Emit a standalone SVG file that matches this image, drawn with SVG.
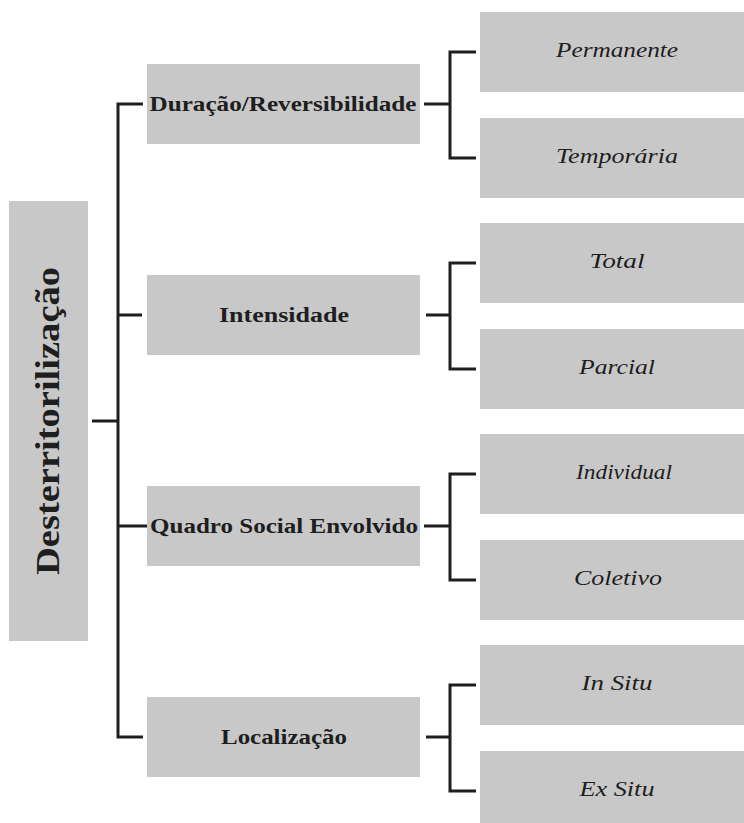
<svg xmlns="http://www.w3.org/2000/svg" width="744" height="823" viewBox="0 0 744 823">
<style>
.box{fill:#c8c8c8}
.l1{font-family:"Liberation Serif",serif;font-weight:bold;font-size:20px;fill:#1e1e1e;text-anchor:middle}
.leaf{font-family:"Liberation Serif",serif;font-style:italic;font-size:20px;fill:#1e1e1e;text-anchor:middle}
.root{font-family:"Liberation Serif",serif;font-weight:bold;font-size:33px;fill:#1e1e1e;text-anchor:middle}
.conn{fill:none;stroke:#1e1e1e;stroke-width:3}
</style>
<rect width="744" height="823" fill="#ffffff"/>
<g id="connectors">
<path class="conn" d="M92,421 H118 M143,104 H118 V737 H143 M118,315 H142 M118,526 H147"/>
<path class="conn" d="M424,104 H450 M476,52 H450 V158 H476"/>
<path class="conn" d="M426,315 H450 M476,263 H450 V369 H476"/>
<path class="conn" d="M424,526 H450 M476,474 H450 V580 H476"/>
<path class="conn" d="M426,737 H450 M476,685 H450 V791 H476"/>
</g>
<g id="root">
<rect class="box" x="9" y="201" width="79" height="440"/>
<text class="root" transform="translate(59,421) rotate(-90)" textLength="308" lengthAdjust="spacingAndGlyphs">Desterritorilização</text>
</g>
<g id="duracao">
<rect class="box" x="147" y="64" width="273" height="80"/>
<text class="l1" x="283" y="111" textLength="267" lengthAdjust="spacingAndGlyphs">Duração/Reversibilidade</text>
</g>
<g id="intensidade">
<rect class="box" x="147" y="275" width="273" height="80"/>
<text class="l1" x="284" y="322" textLength="130" lengthAdjust="spacingAndGlyphs">Intensidade</text>
</g>
<g id="quadro">
<rect class="box" x="147" y="486" width="273" height="80"/>
<text class="l1" x="284" y="533" textLength="268" lengthAdjust="spacingAndGlyphs">Quadro Social Envolvido</text>
</g>
<g id="localizacao">
<rect class="box" x="147" y="697" width="273" height="80"/>
<text class="l1" x="284" y="744" textLength="126" lengthAdjust="spacingAndGlyphs">Localização</text>
</g>
<g id="permanente">
<rect class="box" x="480" y="12" width="264" height="80"/>
<text class="leaf" x="617" y="57" textLength="122" lengthAdjust="spacingAndGlyphs">Permanente</text>
</g>
<g id="temporaria">
<rect class="box" x="480" y="118" width="264" height="80"/>
<text class="leaf" x="617" y="163" textLength="122" lengthAdjust="spacingAndGlyphs">Temporária</text>
</g>
<g id="total">
<rect class="box" x="480" y="223" width="264" height="80"/>
<text class="leaf" x="617" y="268" textLength="55" lengthAdjust="spacingAndGlyphs">Total</text>
</g>
<g id="parcial">
<rect class="box" x="480" y="329" width="264" height="80"/>
<text class="leaf" x="617" y="374" textLength="76" lengthAdjust="spacingAndGlyphs">Parcial</text>
</g>
<g id="individual">
<rect class="box" x="480" y="434" width="264" height="80"/>
<text class="leaf" x="624" y="479" textLength="96" lengthAdjust="spacingAndGlyphs">Individual</text>
</g>
<g id="coletivo">
<rect class="box" x="480" y="540" width="264" height="80"/>
<text class="leaf" x="618" y="585" textLength="88" lengthAdjust="spacingAndGlyphs">Coletivo</text>
</g>
<g id="insitu">
<rect class="box" x="480" y="645" width="264" height="80"/>
<text class="leaf" x="617" y="690" textLength="71" lengthAdjust="spacingAndGlyphs">In Situ</text>
</g>
<g id="exsitu">
<rect class="box" x="480" y="751" width="264" height="80"/>
<text class="leaf" x="617" y="796" textLength="75" lengthAdjust="spacingAndGlyphs">Ex Situ</text>
</g>
</svg>
